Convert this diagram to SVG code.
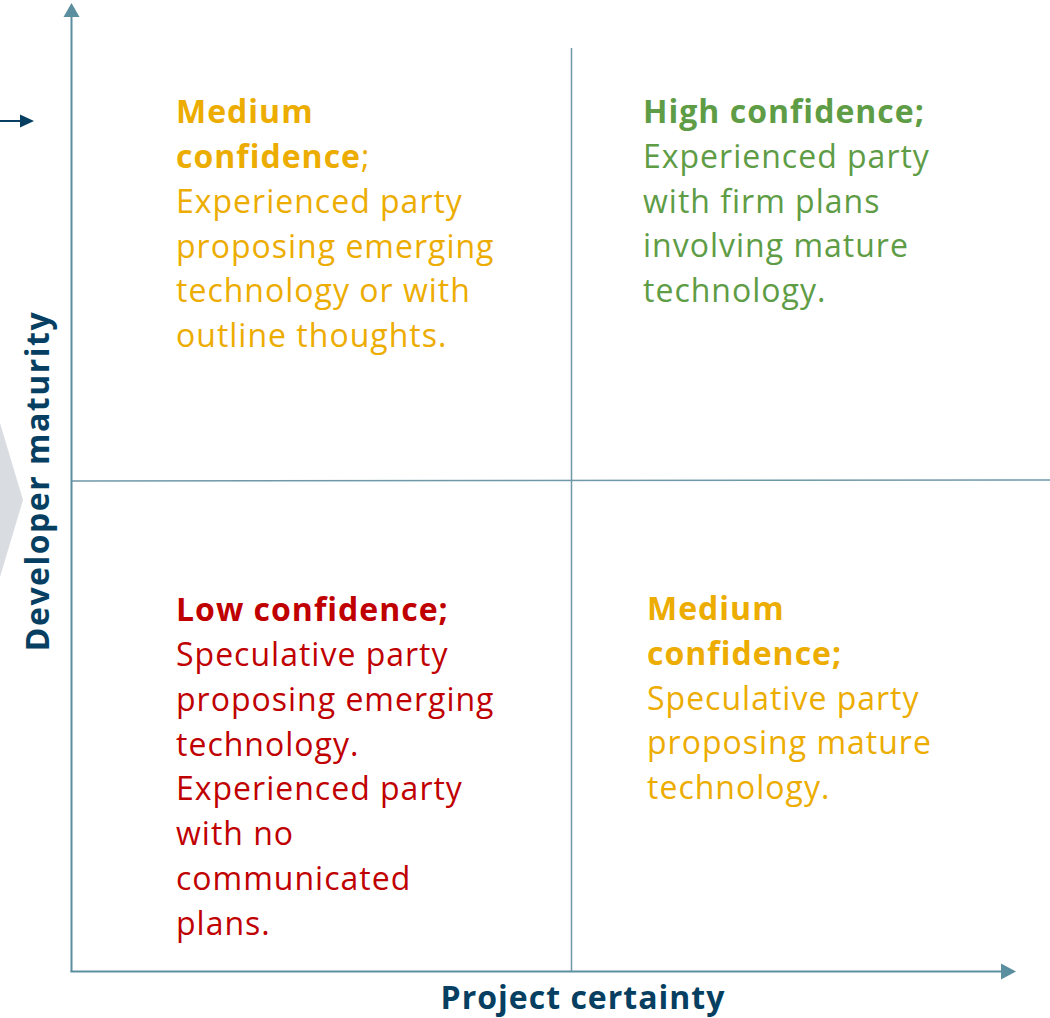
<svg xmlns="http://www.w3.org/2000/svg" width="1050" height="1018" viewBox="0 0 1050 1018">
  <defs>
    <style>
      .t { font-family: "Open Sans", "Liberation Sans", sans-serif; font-size: 32px; letter-spacing: 1px; }
      .b { font-weight: bold; }
      .yel { fill: #ECAC00; }
      .grn { fill: #5E9C45; }
      .red { fill: #C00000; }
      .navy { fill: #063F61; }
      .axis { stroke: #5B8FA0; stroke-width: 2; fill: none; }
      .grid { stroke: #6F98A8; stroke-width: 1.5; fill: none; }
    </style>
  </defs>
  <rect width="1050" height="1018" fill="#FFFFFF"/>
  <g id="chevron">
    <polygon points="0,423 23,500 0,577" fill="#D9DCE1"/>
  </g>
  <g id="connectors">
    <line class="grid" x1="571.5" y1="48" x2="571.5" y2="972"/>
    <line class="grid" x1="71" y1="481" x2="1050" y2="480"/>
    <line class="axis" x1="71.5" y1="972" x2="71.5" y2="16"/>
    <polygon points="71.5,3 79.5,17 63.5,17" fill="#5B8FA0"/>
    <line class="axis" x1="70.5" y1="971.5" x2="1002" y2="971.5"/>
    <polygon points="1016,971.5 1001,963.5 1001,979.5" fill="#5B8FA0"/>
    <line x1="0" y1="121" x2="21" y2="121" stroke="#063F61" stroke-width="2"/>
    <polygon points="34,121 20,114.5 20,127.5" fill="#063F61"/>
  </g>
  <g id="y-axis-label">
    <text class="t b navy" transform="translate(49,481) rotate(-90)" text-anchor="middle" font-size="34" style="letter-spacing:1.5px">Developer maturity</text>
  </g>
  <g id="x-axis-label">
    <text class="t b navy" x="583" y="1009" text-anchor="middle">Project certainty</text>
  </g>
  <g id="q-top-left">
    <text class="t yel">
      <tspan class="b" x="176" y="123">Medium</tspan>
      <tspan x="176" y="168"><tspan class="b">confidence</tspan>;</tspan>
      <tspan x="176" y="213">Experienced party</tspan>
      <tspan x="176" y="258">proposing emerging</tspan>
      <tspan x="176" y="302">technology or with</tspan>
      <tspan x="176" y="347">outline thoughts.</tspan>
    </text>
  </g>
  <g id="q-top-right">
    <text class="t grn">
      <tspan class="b" x="643" y="123">High confidence;</tspan>
      <tspan x="643" y="168">Experienced party</tspan>
      <tspan x="643" y="213">with firm plans</tspan>
      <tspan x="643" y="257">involving mature</tspan>
      <tspan x="643" y="302">technology.</tspan>
    </text>
  </g>
  <g id="q-bottom-left">
    <text class="t red">
      <tspan class="b" x="176" y="621">Low confidence;</tspan>
      <tspan x="176" y="666">Speculative party</tspan>
      <tspan x="176" y="711">proposing emerging</tspan>
      <tspan x="176" y="756">technology.</tspan>
      <tspan x="176" y="800">Experienced party</tspan>
      <tspan x="176" y="845">with no</tspan>
      <tspan x="176" y="890">communicated</tspan>
      <tspan x="176" y="935">plans.</tspan>
    </text>
  </g>
  <g id="q-bottom-right">
    <text class="t yel">
      <tspan class="b" x="647" y="620">Medium</tspan>
      <tspan class="b" x="647" y="665">confidence;</tspan>
      <tspan x="647" y="710">Speculative party</tspan>
      <tspan x="647" y="754">proposing mature</tspan>
      <tspan x="647" y="799">technology.</tspan>
    </text>
  </g>
</svg>
